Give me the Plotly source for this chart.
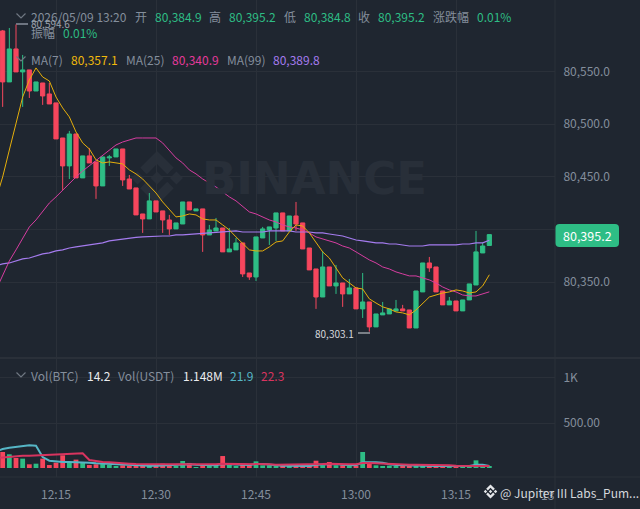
import pandas as pd
import plotly.graph_objects as go

WIDTH = 640
HEIGHT = 509
FONT = "Noto Sans CJK SC"
BG = "#1F2630"
GRID = "#2A3039"
GREY = "#848E9C"
GREEN = "#2EBD85"
RED = "#F6465D"

opens = [80588.5, 80540.1, 80571.4, 80549.6, 80551.5, 80531.5, 80539.1, 80528.7, 80520.2, 80486.9,
         80460.4, 80490.7, 80449.0, 80469.9, 80464.2, 80441.4, 80468.0, 80468.9, 80476.5, 80448.0,
         80439.5, 80414.8, 80410.1, 80427.2, 80417.7, 80409.1, 80400.6, 80405.3, 80426.2, 80417.7,
         80419.6, 80394.9, 80398.7, 80401.5, 80378.8, 80380.7, 80387.3, 80358.8, 80355.0, 80392.0,
         80399.6, 80401.5, 80415.8, 80398.7, 80412.9, 80406.3, 80382.5, 80362.6, 80336.0, 80364.5,
         80346.5, 80349.3, 80338.9, 80344.6, 80324.7, 80331.3, 80307.6, 80319.0, 80319.9, 80322.8,
         80324.7, 80323.7, 80306.6, 80340.8, 80368.3, 80364.5, 80341.7, 80328.5, 80332.2, 80322.8,
         80333.2, 80347.4, 80377.8, 80384.9]
closes = [80540.1, 80571.4, 80549.6, 80551.5, 80531.5, 80540.1, 80526.8, 80519.2, 80486.0, 80460.4,
          80490.7, 80449.0, 80469.9, 80463.2, 80441.4, 80468.9, 80468.9, 80476.5, 80447.1, 80438.5,
          80413.9, 80410.1, 80427.2, 80416.7, 80409.1, 80400.6, 80406.3, 80426.2, 80418.6, 80419.6,
          80394.9, 80399.6, 80401.5, 80378.8, 80381.6, 80387.3, 80357.9, 80355.0, 80393.0, 80400.6,
          80402.5, 80415.8, 80398.7, 80412.9, 80405.3, 80381.6, 80361.7, 80336.0, 80364.5, 80346.5,
          80349.3, 80338.9, 80344.6, 80324.7, 80331.3, 80307.6, 80319.9, 80320.9, 80324.7, 80324.7,
          80322.8, 80306.6, 80341.7, 80368.3, 80363.6, 80340.8, 80328.5, 80332.2, 80322.8, 80333.2,
          80348.4, 80378.8, 80384.4, 80395.2]
highs = [80589.4, 80591.3, 80594.6, 80565.7, 80551.5, 80540.1, 80539.1, 80539.1, 80520.2, 80486.9,
         80493.6, 80490.7, 80469.9, 80477.4, 80464.2, 80468.9, 80470.8, 80476.5, 80476.5, 80451.8,
         80439.5, 80414.8, 80434.7, 80427.2, 80417.7, 80413.9, 80406.3, 80426.2, 80426.2, 80419.6,
         80419.6, 80404.4, 80411.0, 80401.5, 80401.5, 80392.0, 80387.3, 80358.8, 80393.0, 80402.5,
         80402.5, 80415.8, 80415.8, 80412.9, 80426.2, 80406.3, 80382.5, 80362.6, 80379.7, 80364.5,
         80366.4, 80349.3, 80353.1, 80344.6, 80358.8, 80331.3, 80319.9, 80331.3, 80324.7, 80333.2,
         80328.5, 80323.7, 80341.7, 80368.3, 80374.0, 80364.5, 80341.7, 80336.0, 80332.2, 80333.2,
         80348.4, 80398.7, 80387.3, 80395.2]
lows = [80516.4, 80540.1, 80549.6, 80516.4, 80524.9, 80531.5, 80518.3, 80519.2, 80486.0, 80437.6,
        80448.0, 80449.0, 80449.0, 80463.2, 80429.1, 80441.4, 80460.4, 80468.9, 80441.4, 80438.5,
        80413.9, 80396.8, 80410.1, 80416.7, 80396.8, 80394.9, 80400.6, 80405.3, 80418.6, 80417.7,
        80378.8, 80394.9, 80398.7, 80378.8, 80378.8, 80380.7, 80355.0, 80352.2, 80351.2, 80392.0,
        80385.4, 80389.2, 80398.7, 80398.7, 80398.7, 80381.6, 80361.7, 80324.7, 80336.0, 80346.5,
        80338.9, 80326.6, 80338.9, 80324.7, 80316.1, 80303.1, 80307.6, 80319.0, 80319.9, 80322.8,
        80322.8, 80306.6, 80306.6, 80340.8, 80359.8, 80340.8, 80328.5, 80328.5, 80322.8, 80322.8,
        80333.2, 80347.4, 80377.8, 80384.8]
volumes = [178, 152, 111, 104, 41, 48, 104, 33, 59, 141, 59, 93, 67, 33, 41, 44, 33, 22, 30, 26,
           26, 26, 26, 26, 48, 41, 22, 78, 56, 11, 33, 26, 26, 133, 33, 22, 48, 44, 74, 30,
           30, 26, 22, 26, 26, 18, 18, 81, 30, 67, 30, 30, 22, 26, 178, 44, 30, 18, 26, 22,
           26, 18, 22, 22, 22, 18, 18, 22, 26, 22, 18, 85, 26, 14.2]

# moving averages start one minute before the first visible candle
ma7 = [80429.1, 80449.9, 80475.5, 80501.2, 80525.8, 80542.0, 80553.4, 80544.8, 80541.0, 80525.8,
       80515.4, 80506.9, 80492.6, 80482.2, 80476.5, 80466.1, 80463.2, 80464.2, 80463.2, 80462.3,
       80456.6, 80452.8, 80448.0, 80441.4, 80434.7, 80426.2, 80418.6, 80412.0, 80412.9, 80414.8,
       80413.9, 80410.1, 80409.1, 80409.1, 80404.4, 80399.6, 80393.0, 80387.3, 80380.7, 80379.7,
       80379.7, 80383.5, 80388.2, 80389.2, 80397.7, 80404.4, 80403.4, 80396.8, 80388.2, 80378.8,
       80373.0, 80363.6, 80354.1, 80349.3, 80344.6, 80343.6, 80334.2, 80330.3, 80326.6, 80324.7,
       80321.8, 80320.9, 80319.0, 80323.7, 80330.3, 80336.0, 80337.9, 80339.8, 80340.8, 80342.7,
       80341.7, 80339.8, 80340.8, 80346.5, 80357.1]
ma25 = [80342.7, 80356.9, 80370.2, 80380.7, 80391.1, 80402.5, 80409.1, 80416.7, 80425.2, 80431.0,
        80437.6, 80444.2, 80449.9, 80455.6, 80460.4, 80465.1, 80469.9, 80474.6, 80480.3, 80483.1,
        80485.0, 80486.9, 80486.9, 80486.9, 80486.9, 80482.2, 80475.5, 80468.0, 80463.2, 80456.6,
        80452.8, 80448.0, 80444.2, 80440.4, 80435.7, 80431.0, 80427.2, 80421.5, 80416.7, 80414.8,
        80412.0, 80409.1, 80407.2, 80404.4, 80402.5, 80401.5, 80399.6, 80396.8, 80393.0, 80391.1,
        80389.2, 80387.3, 80384.4, 80382.5, 80378.8, 80375.0, 80371.2, 80368.3, 80364.5, 80362.6,
        80359.8, 80357.9, 80356.0, 80356.0, 80354.1, 80352.2, 80349.3, 80345.5, 80342.7, 80340.8,
        80337.9, 80337.0, 80337.0, 80338.9, 80340.9]
ma99 = [80365.5, 80367.4, 80368.3, 80370.2, 80372.1, 80373.0, 80374.9, 80376.9, 80377.8, 80379.7,
        80380.7, 80382.5, 80383.5, 80384.4, 80385.4, 80386.3, 80387.3, 80389.2, 80390.1, 80391.1,
        80392.0, 80392.5, 80393.0, 80393.5, 80393.9, 80393.9, 80393.9, 80394.9, 80394.9, 80395.4,
        80395.8, 80395.8, 80396.8, 80396.8, 80397.7, 80398.2, 80398.7, 80397.7, 80397.7, 80397.7,
        80397.7, 80398.7, 80398.7, 80398.7, 80398.7, 80397.7, 80397.7, 80397.7, 80396.8, 80396.8,
        80395.8, 80394.9, 80393.9, 80392.0, 80390.1, 80389.2, 80388.2, 80387.3, 80387.3, 80386.3,
        80386.3, 80385.4, 80384.4, 80384.4, 80384.4, 80385.4, 80385.4, 80385.4, 80385.4, 80385.4,
        80386.3, 80386.3, 80387.3, 80387.3, 80389.8]
vol_ma5 = [185, 211, 226, 237, 244, 252, 248, 122, 81, 70, 67, 67, 67, 67, 59, 52, 48, 44, 41, 37,
           33, 30, 26, 26, 26, 30, 30, 30, 37, 41, 37, 33, 30, 30, 44, 44, 41, 37, 33, 44,
           44, 37, 33, 26, 26, 26, 26, 22, 37, 41, 48, 44, 37, 33, 30, 63, 67, 63, 59, 41,
           33, 30, 26, 26, 22, 22, 22, 22, 18, 22, 22, 22, 37, 37, 21.9]
vol_ma10 = [111, 118, 126, 133, 137, 137, 141, 141, 144, 152, 155, 159, 159, 163, 89, 74, 67, 63, 56, 52,
            48, 44, 41, 41, 41, 41, 41, 37, 44, 44, 44, 41, 41, 41, 48, 48, 44, 44, 41, 44,
            41, 41, 37, 37, 37, 37, 37, 37, 44, 44, 48, 44, 44, 41, 41, 56, 56, 52, 48, 44,
            41, 41, 37, 37, 37, 37, 33, 30, 30, 26, 26, 26, 26, 26, 22.3]

price_ticks = [80350, 80400, 80450, 80500, 80550]
vol_ticks = [500, 1000]
vol_tick_labels = ["500.00", "1K"]

header_row = [
    (30, "2026/05/09 13:20", GREY), (134, "开", GREY), (154, "80,384.9", GREEN),
    (208, "高", GREY), (228, "80,395.2", GREEN), (283, "低", GREY), (303, "80,384.8", GREEN),
    (357, "收", GREY), (377, "80,395.2", GREEN), (432, "涨跌幅", GREY), (476, "0.01%", GREEN),
]
amplitude_row = [(30, "振幅", GREY), (62, "0.01%", GREEN)]
ma_row = [
    (30, "MA(7)", GREY), (70, "80,357.1", "#F0B90B"), (125, "MA(25)", GREY), (171, "80,340.9", "#E5399B"),
    (226, "MA(99)", GREY), (272, "80,389.8", "#A47BEE"),
]
vol_row = [
    (30, "Vol(BTC)", GREY), (86, "14.2", "#EAECEF"), (117, "Vol(USDT)", GREY), (182, "1.148M", "#EAECEF"),
    (229, "21.9", "#56B6C6"), (260, "22.3", "#D8345F"),
]


def px_x(x):
    return x / WIDTH


def px_y(y):
    return 1 - y / HEIGHT


def label(x, y, text, color, size=12, anchor="left"):
    return dict(x=px_x(x), y=px_y(y), xref="paper", yref="paper", text=text, showarrow=False,
                xanchor=anchor, yanchor="middle", borderpad=0, font=dict(family=FONT, size=size, color=color))


def px_line(x0, y0, x1, y1, color=GRID, width=1):
    return dict(type="line", xref="paper", yref="paper", x0=px_x(x0), y0=px_y(y0), x1=px_x(x1), y1=px_y(y1),
                line=dict(color=color, width=width), layer="below")


def px_path(points, color=None, fill=None, width=1.2, layer="above"):
    path = "M " + " L ".join(f"{px_x(x):.5f},{px_y(y):.5f}" for x, y in points)
    if fill:
        path += " Z"
    return dict(type="path", xref="paper", yref="paper", path=path, layer=layer,
                fillcolor=fill or "rgba(0,0,0,0)", line=dict(color=color or "rgba(0,0,0,0)", width=width if color else 0))


def rounded_tag(x0, y0, x1, y1, r, color):
    pt = lambda x, y: f"{px_x(x):.5f},{px_y(y):.5f}"
    path = (f"M {pt(x0 + r, y0)} L {pt(x1 - r, y0)} Q {pt(x1, y0)} {pt(x1, y0 + r)} "
            f"L {pt(x1, y1 - r)} Q {pt(x1, y1)} {pt(x1 - r, y1)} "
            f"L {pt(x0 + r, y1)} Q {pt(x0, y1)} {pt(x0, y1 - r)} "
            f"L {pt(x0, y0 + r)} Q {pt(x0, y0)} {pt(x0 + r, y0)} Z")
    return dict(type="path", xref="paper", yref="paper", path=path, fillcolor=color, line=dict(width=0), layer="above")


def chevron(x, y):
    return px_path([(x - 4.5, y - 2.5), (x, y + 2), (x + 4.5, y - 2.5)], color="#6F7782")


def binance_logo(cx, cy, r, color, layer):
    shapes = []
    for dx in [-0.72, 0, 0.72]:
        d = 0.24
        shapes.append(px_path([(cx + (dx - d) * r, cy), (cx + dx * r, cy - d * r),
                               (cx + (dx + d) * r, cy), (cx + dx * r, cy + d * r)], fill=color, layer=layer))
    for sign in [-1, 1]:
        pts = [(0, 1), (0.62, 0.38), (0.38, 0.14), (0, 0.52), (-0.38, 0.14), (-0.62, 0.38)]
        shapes.append(px_path([(cx + a * r, cy + sign * b * r) for a, b in pts], fill=color, layer=layer))
    return shapes


times = pd.date_range("2026-05-09 12:07", periods=len(opens), freq="min")
ma_times = pd.date_range("2026-05-09 12:06", periods=len(ma7), freq="min")
vol_colors = [GREEN if c >= o else RED for o, c in zip(opens, closes)]

fig = go.Figure()

fig.add_trace(go.Candlestick(
    x=times, open=opens, high=highs, low=lows, close=closes, xaxis="x", yaxis="y", whiskerwidth=0,
    increasing=dict(line=dict(color=GREEN, width=1), fillcolor=GREEN),
    decreasing=dict(line=dict(color=RED, width=1), fillcolor=RED),
))
for values, color, width in [(ma99, "#A47BEE", 1.2), (ma25, "#D63DA0", 1), (ma7, "#E5AE0B", 1)]:
    fig.add_trace(go.Scatter(x=ma_times, y=values, mode="lines", line=dict(color=color, width=width),
                             xaxis="x", yaxis="y"))

fig.add_trace(go.Bar(x=times, y=volumes, marker=dict(color=vol_colors, line=dict(width=0)), width=60000 * 0.72,
                     xaxis="x2", yaxis="y2"))
fig.add_trace(go.Scatter(x=ma_times, y=vol_ma5, mode="lines", line=dict(color="#56B6C6", width=2), xaxis="x2", yaxis="y2"))
fig.add_trace(go.Scatter(x=ma_times, y=vol_ma10, mode="lines", line=dict(color="#D8345F", width=2), xaxis="x2", yaxis="y2"))

annotations = []
for row, y in [(header_row, 16.5), (amplitude_row, 32), (ma_row, 59), (vol_row, 375)]:
    for x, text, color in row:
        annotations.append(label(x, y, text, color))
annotations += [
    dict(x=px_x(314), y=px_y(179), xref="paper", yref="paper", text="<b>BINANCE</b>", showarrow=False,
         font=dict(family="DejaVu Sans", size=45, color="#282F39")),
    label(30, 24, "80,594.6", "#9BA1AB", size=10),
    label(355, 333, "80,303.1", "#D5D8DC", size=10, anchor="right"),
    label(587.5, 235.5, "80,395.2", "#FFFFFF", size=12.5, anchor="center"),
    label(555, 494, "13", GREY, anchor="right"),
    label(499, 492, "@ Jupiter III Labs_Pum...", "#D5D8DC"),
]

shapes = [
    px_line(555, 0, 555, HEIGHT),
    px_line(0, 358, WIDTH, 358, width=2),
    px_line(0, 477, WIDTH, 477),
    px_line(16, 24, 28, 24, color="#8A919C", width=1.5),
    dict(px_line(358, 333, 370, 333, color="#D5D8DC"), layer="above"),
    rounded_tag(555.5, 224, 619, 247, 4, GREEN),
    chevron(21, 16),
    chevron(21, 59),
    chevron(21, 375),
]
shapes += binance_logo(157, 178, 27, "#282F39", "below")
shapes += binance_logo(490.5, 491.5, 7, "#E4E6E9", "above")

fig.update_layout(
    width=WIDTH, height=HEIGHT, margin=dict(l=0, r=0, t=0, b=0), paper_bgcolor=BG, plot_bgcolor=BG,
    showlegend=False, hovermode=False, boxgap=0.1, font=dict(family=FONT, size=12, color=GREY),
    annotations=annotations, shapes=shapes,
    xaxis=dict(domain=[0, px_x(555)], range=["2026-05-09 12:06:36", "2026-05-09 13:29:51"], anchor="y",
               rangeslider=dict(visible=False), showticklabels=False, dtick=900000,
               tick0="2026-05-09 12:00", gridcolor=GRID, gridwidth=1, zeroline=False, showline=False),
    yaxis=dict(domain=[px_y(358), 1], range=[80278.1, 80617.85], side="right", anchor="x",
               tickvals=price_ticks, tickformat=",.1f", gridcolor=GRID, gridwidth=1, zeroline=False,
               ticks="outside", ticklen=5, tickcolor=BG, tickfont=dict(family=FONT, size=12, color=GREY)),
    xaxis2=dict(domain=[0, px_x(555)], range=["2026-05-09 12:06:36", "2026-05-09 13:29:51"], anchor="y2",
                dtick=900000, tick0="2026-05-09 12:00", tickformat="%H:%M", gridcolor=GRID, gridwidth=1,
                zeroline=False, showline=False, ticks="outside", ticklen=7, tickcolor=BG,
                tickfont=dict(family=FONT, size=12, color=GREY)),
    yaxis2=dict(domain=[px_y(477), px_y(359)], range=[-100, 1211], side="right", anchor="x2",
                tickvals=vol_ticks, ticktext=vol_tick_labels, gridcolor=GRID, gridwidth=1, zeroline=False,
                ticks="outside", ticklen=5, tickcolor=BG, tickfont=dict(family=FONT, size=12, color=GREY)),
)

# the browser's default body margin would push the chart off the window
fig.write_html("out.html", config={"displayModeBar": False},
               post_script="document.body.style.margin = '0'; document.body.style.background = '#1F2630';")
